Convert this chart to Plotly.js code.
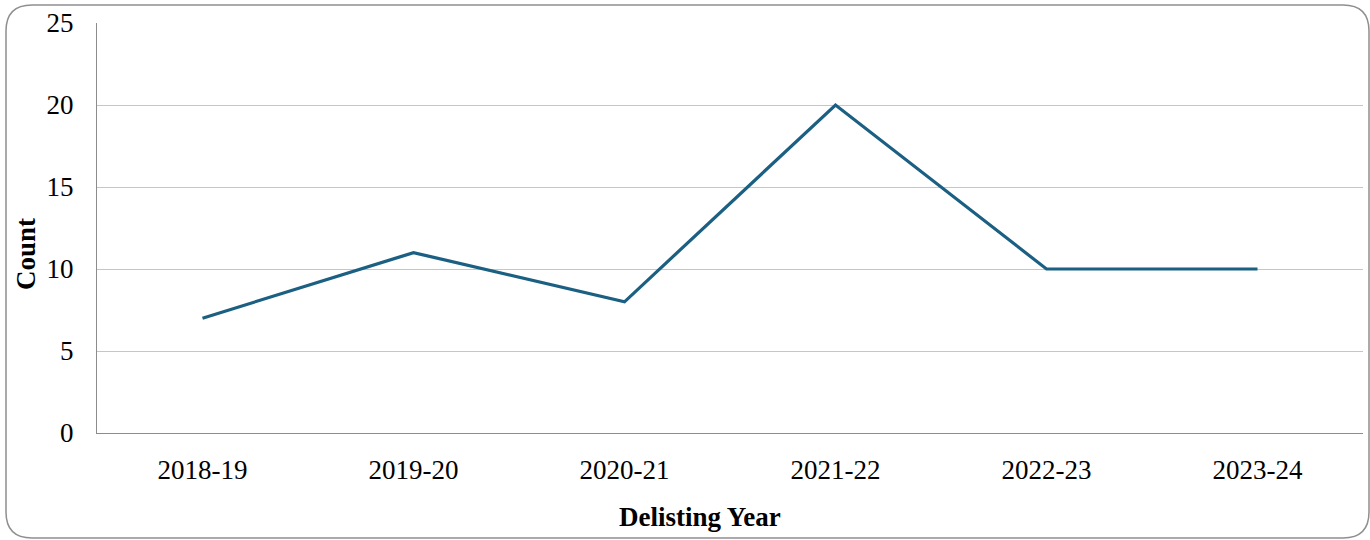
<!DOCTYPE html>
<html>
<head>
<meta charset="utf-8">
<script src="https://cdn.plot.ly/plotly-3.0.1.min.js"></script>
<style>
  html, body { margin: 0; padding: 0; background: #ffffff; }
  #chart { width: 1370px; height: 540px; }
</style>
</head>
<body>
<div id="chart"></div>
<script>
// Delisting counts per financial year
const years = ['2018-19', '2019-20', '2020-21', '2021-22', '2022-23', '2023-24'];
const counts = [7, 11, 8, 20, 10, 10];
const yTicks = [0, 5, 10, 15, 20, 25];

const W = 1370, H = 540;
const M = { l: 97, r: 7, t: 23, b: 107 };
const plotW = W - M.l - M.r, plotH = H - M.t - M.b;
// pixel -> paper helpers for the outer frame and the axis titles
const px = x => (x - M.l) / plotW;
const py = y => (H - M.b - y) / plotH;

// rounded frame around the whole figure
const fx0 = 6, fy0 = 5, fx1 = 1369, fy1 = 538, rad = 26;
const framePath = [
  'M', px(fx0 + rad), py(fy0),
  'L', px(fx1 - rad), py(fy0),
  'Q', px(fx1), py(fy0), px(fx1), py(fy0 + rad),
  'L', px(fx1), py(fy1 - rad),
  'Q', px(fx1), py(fy1), px(fx1 - rad), py(fy1),
  'L', px(fx0 + rad), py(fy1),
  'Q', px(fx0), py(fy1), px(fx0), py(fy1 - rad),
  'L', px(fx0), py(fy0 + rad),
  'Q', px(fx0), py(fy0), px(fx0 + rad), py(fy0),
  'Z'
].join(' ');

const serif = '"Liberation Serif", "Times New Roman", serif';
const FS = 27;

const trace = {
  type: 'scatter',
  mode: 'lines',
  x: years,
  y: counts,
  line: { color: '#1b6082', width: 3.2 },
  hoverinfo: 'x+y'
};

const layout = {
  width: W,
  height: H,
  margin: M,
  paper_bgcolor: '#ffffff',
  plot_bgcolor: '#ffffff',
  showlegend: false,
  font: { family: serif, size: FS, color: '#000000' },
  xaxis: {
    type: 'category',
    range: [-0.5, years.length - 0.5],
    showgrid: false,
    zeroline: false,
    showline: true,
    linecolor: '#8c8c8c',
    linewidth: 1,
    ticks: '',
    ticklabelstandoff: 13,
    tickfont: { family: serif, size: FS, color: '#000000' },
    fixedrange: true
  },
  yaxis: {
    range: [0, 25],
    tickvals: yTicks,
    ticktext: yTicks.map(String),
    showgrid: true,
    gridcolor: '#c6c6c6',
    gridwidth: 1,
    zeroline: false,
    showline: true,
    linecolor: '#8c8c8c',
    linewidth: 1,
    ticks: '',
    ticklabelstandoff: 17,
    tickfont: { family: serif, size: FS, color: '#000000' },
    fixedrange: true
  },
  annotations: [{
    text: '<b>Count</b>',
    textangle: -90,
    xref: 'paper', yref: 'paper',
    x: px(26), y: py(254),
    xanchor: 'center', yanchor: 'middle',
    showarrow: false,
    font: { family: serif, size: FS, color: '#000000' }
  }, {
    text: '<b>Delisting Year</b>',
    xref: 'paper', yref: 'paper',
    x: px(700), y: py(517),
    xanchor: 'center', yanchor: 'middle',
    showarrow: false,
    font: { family: serif, size: FS, color: '#000000' }
  }],
  shapes: [{
    type: 'path',
    xref: 'paper', yref: 'paper',
    path: framePath,
    line: { color: '#8f8f8f', width: 1.5 },
    fillcolor: 'rgba(0,0,0,0)',
    layer: 'above'
  }]
};

Plotly.newPlot('chart', [trace], layout, { displayModeBar: false, staticPlot: true });
</script>
</body>
</html>
